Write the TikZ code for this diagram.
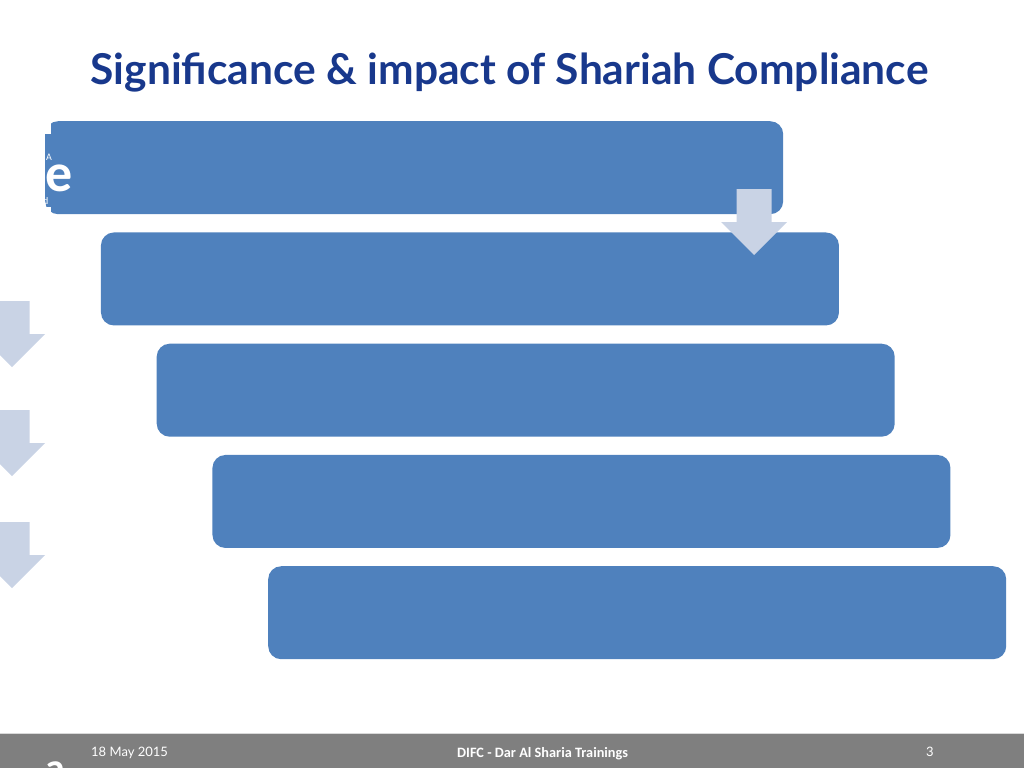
\documentclass[tikz,border=0pt]{standalone}
\usepackage{fontspec}
\usepackage{xcolor}
\usepackage{tikz}
\usetikzlibrary{positioning,calc}
\newfontfamily\latofont{Lato}
\newfontfamily\calfont{Carlito}
\definecolor{titleblue}{RGB}{24,56,140}
\definecolor{boxblue}{RGB}{79,129,189}
\definecolor{arrowgray}{RGB}{201,211,229}
\definecolor{footgray}{RGB}{127,127,127}
\definecolor{footline}{RGB}{217,217,217}
\tikzset{pics/downarrow/.style={code={
  \fill[arrowgray] (-17.5,0) -- (17.5,0) -- (17.5,33) -- (33,33) -- (0,66)
    -- (-33,33) -- (-17.5,33) -- cycle;}}}

\begin{document}
\begin{tikzpicture}[x=1pt, y=-1pt,
    stepbox/.style={fill=boxblue, rounded corners=13pt, minimum width=738pt,
      minimum height=93pt, anchor=north west, inner sep=0pt},
    foottext/.style={text=white, inner sep=0pt, anchor=base west}]
    \useasboundingbox (0,0) rectangle (1024,768);
    \clip (0,0) rectangle (1024,768);

    % Title
    \node[text=titleblue, anchor=base, inner sep=0pt] (title) at (509.5,84)
      {\latofont\bfseries\fontsize{42.5}{48}\selectfont Significance \& impact of Shariah Compliance};

    % Steps
    \foreach \i in {1,...,5}
      \node[stepbox] (box\i) at ({45+55.75*(\i-1)},{121+111.25*(\i-1)}) {};

    % Cut-off text at the left of the first step
    \begin{scope}
      \clip (45,115) rectangle (120,220);
      \fill[white] (45,122) rectangle (51,134);
      \fill[white] (45,207) rectangle (51,214);
      \node[text=white, anchor=base west, inner sep=0pt] (fragA) at (46,160)
        {\calfont\fontsize{10}{12}\selectfont A};
      \node[text=white, anchor=base west, inner sep=0pt] (fragE) at (45,191)
        {\calfont\bfseries\fontsize{54}{60}\selectfont e};
      \node[text=white, anchor=base west, inner sep=0pt] (fragD) at (43,204)
        {\calfont\fontsize{10}{12}\selectfont d};
    \end{scope}

    % Arrows
    \pic at (754,189) {downarrow};
    \foreach \y in {301,410,522}
      \pic at (12,\y) {downarrow};

    % Footer
    \fill[footgray] (0,733) rectangle (1024,768);
    \draw[footline, line width=1pt] (0,733.5) -- (1024,733.5);
    \node[foottext] (date) at (91,756) {\latofont\fontsize{13}{15}\selectfont 18 May 2015};
    \node[foottext] (course) at (457,757) {\calfont\bfseries\fontsize{14.3}{16}\selectfont DIFC - Dar Al Sharia Trainings};
    \node[foottext] (page) at (926,756) {\latofont\fontsize{13}{15}\selectfont 3};
    \node[text=white, anchor=base, inner sep=0pt] (fragfoot) at (55,781)
      {\calfont\bfseries\fontsize{40}{44}\selectfont a};
\end{tikzpicture}
\end{document}
